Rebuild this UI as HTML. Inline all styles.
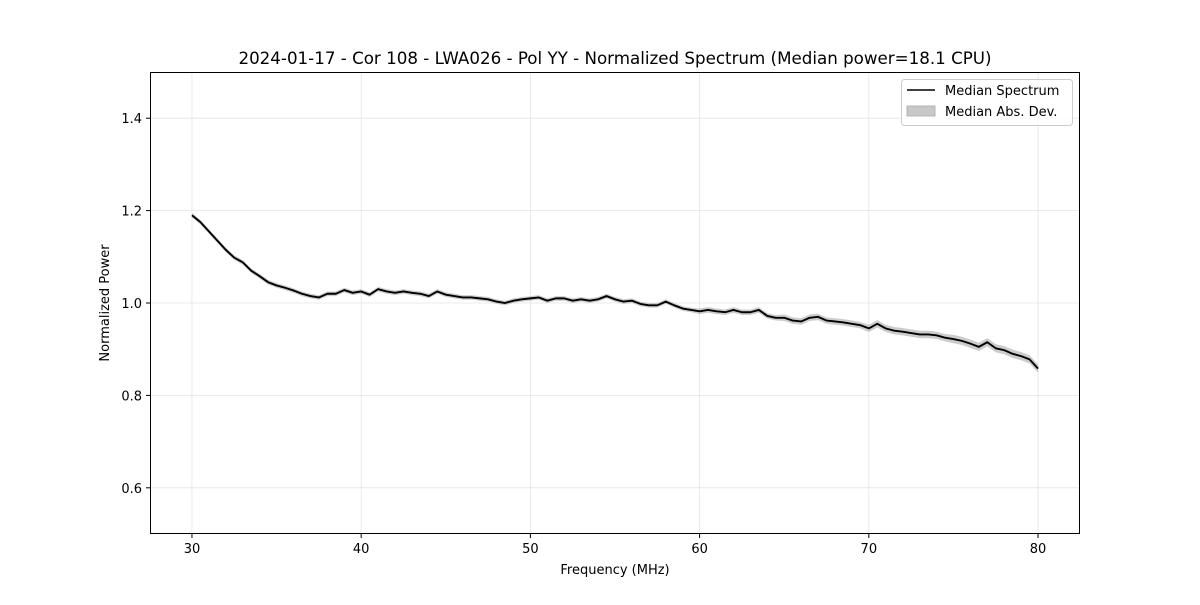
<!DOCTYPE html>
<html><head><meta charset="utf-8"><style>
body{margin:0;background:#fff;}
svg text{font-family:"DejaVu Sans","Liberation Sans",sans-serif;fill:#000;}
</style></head><body>
<svg id="chart" width="1200" height="600" xmlns="http://www.w3.org/2000/svg">
<rect width="1200" height="600" fill="#fff"/>
<g id="grid"></g>
<g id="marks"></g>
<rect x="150.5" y="72.5" width="929" height="461" fill="none" stroke="#000" stroke-width="1"/>
<g id="ticks"></g>
<text x="615" y="64" font-size="16.7" text-anchor="middle">2024-01-17 - Cor 108 - LWA026 - Pol YY - Normalized Spectrum (Median power=18.1 CPU)</text>
<text x="615" y="574" font-size="13" text-anchor="middle">Frequency (MHz)</text>
<text transform="translate(109,303) rotate(-90)" font-size="13" text-anchor="middle">Normalized Power</text>
<g>
<rect x="901.5" y="79.5" width="171" height="46" rx="3" fill="#fff" fill-opacity="0.8" stroke="#ccc"/>
<line x1="907" y1="90" x2="935" y2="90" stroke="#000" stroke-width="1.5"/>
<text x="945" y="95" font-size="13">Median Spectrum</text>
<rect x="907" y="106" width="28" height="10" fill="#c8c8c8" stroke="#aaa" stroke-width="0.8"/>
<text x="945" y="116" font-size="13">Median Abs. Dev.</text>
</g>
</svg>
<script>
const freqs=[];for(let i=0;i<=100;i++)freqs.push(30+i*0.5);
const medianValues=[1.19,1.175,1.155,1.135,1.115,1.098,1.088,1.07,1.058,1.045,1.038,1.033,1.027,1.02,1.015,1.012,1.02,1.02,1.028,1.022,1.025,1.018,1.03,1.025,1.022,1.025,1.022,1.02,1.015,1.025,1.018,1.015,1.012,1.012,1.01,1.008,1.003,1.0,1.005,1.008,1.01,1.012,1.005,1.01,1.01,1.005,1.008,1.005,1.008,1.015,1.008,1.003,1.005,0.998,0.995,0.995,1.003,0.995,0.988,0.985,0.982,0.985,0.982,0.98,0.985,0.98,0.98,0.985,0.972,0.968,0.968,0.962,0.96,0.968,0.97,0.962,0.96,0.958,0.955,0.952,0.945,0.955,0.945,0.94,0.938,0.935,0.932,0.932,0.93,0.925,0.922,0.918,0.912,0.905,0.915,0.902,0.898,0.89,0.885,0.878,0.858];
const madValues=[0.005,0.005,0.005,0.005,0.005,0.005,0.005,0.005,0.005,0.005,0.005,0.005,0.005,0.005,0.005,0.005,0.005,0.005,0.005,0.005,0.005,0.005,0.005,0.005,0.005,0.005,0.005,0.005,0.005,0.005,0.005,0.005,0.005,0.005,0.005,0.005,0.005,0.005,0.005,0.005,0.005,0.005,0.005,0.005,0.005,0.005,0.005,0.005,0.005,0.005,0.005,0.005,0.005,0.005,0.005,0.005,0.005,0.005,0.005,0.005,0.006,0.006,0.006,0.006,0.006,0.006,0.006,0.006,0.006,0.006,0.007,0.007,0.007,0.007,0.007,0.007,0.007,0.007,0.007,0.007,0.008,0.008,0.008,0.008,0.008,0.008,0.008,0.008,0.008,0.008,0.009,0.009,0.009,0.009,0.009,0.009,0.009,0.009,0.009,0.009,0.009];
const xTicks=[30,40,50,60,70,80];
const yTicks=[0.6,0.8,1.0,1.2,1.4];
const yTickLabels=["0.6","0.8","1.0","1.2","1.4"];
const NS="http://www.w3.org/2000/svg";
const X0=150,X1=1080,Y0=534,Y1=72,XMIN=27.52,XMAX=82.48,YMIN=0.5,YMAX=1.5;
function sx(v){return X0+(v-XMIN)/(XMAX-XMIN)*(X1-X0);}
function sy(v){return Y0-(v-YMIN)/(YMAX-YMIN)*(Y0-Y1);}
function mk(t,a,p){const e=document.createElementNS(NS,t);for(const k in a)e.setAttribute(k,a[k]);p.appendChild(e);return e;}
const grid=document.getElementById('grid'),ticks=document.getElementById('ticks'),marks=document.getElementById('marks');
xTicks.forEach(t=>{const x=sx(t);
 const g=mk('line',{x1:x,x2:x,y1:Y1,y2:Y0,stroke:'#e4e4e4','stroke-width':0.8},grid);
 
 
 const l=mk('line',{x1:x,x2:x,y1:Y0,y2:Y0+4,stroke:'#000'},ticks);
 
 
 const tx=mk('text',{x:x,y:Y0+19,'font-size':13,'text-anchor':'middle'},ticks);tx.textContent=String(t);
 
 
});
yTicks.forEach((t,i)=>{const y=sy(t);
 const g=mk('line',{x1:X0,x2:X1,y1:y,y2:y,stroke:'#e4e4e4','stroke-width':0.8},grid);
 
 
 const l=mk('line',{x1:X0-4,x2:X0,y1:y,y2:y,stroke:'#000'},ticks);
 
 
 const tx=mk('text',{x:X0-8,y:y+5,'font-size':13,'text-anchor':'end'},ticks);tx.textContent=yTickLabels[i];
 
 
});
let up=[],dn=[],ln=[];
freqs.forEach((f,i)=>{up.push(sx(f)+','+sy(medianValues[i]+madValues[i]));dn.unshift(sx(f)+','+sy(medianValues[i]-madValues[i]));ln.push(sx(f)+','+sy(medianValues[i]));});
const band=mk('polygon',{points:up.concat(dn).join(' '),fill:'#b0b0b0','fill-opacity':0.65},marks);


const line=mk('polyline',{points:ln.join(' '),fill:'none',stroke:'#000','stroke-width':1.9,'stroke-linejoin':'round'},marks);


</script>
</body></html>
